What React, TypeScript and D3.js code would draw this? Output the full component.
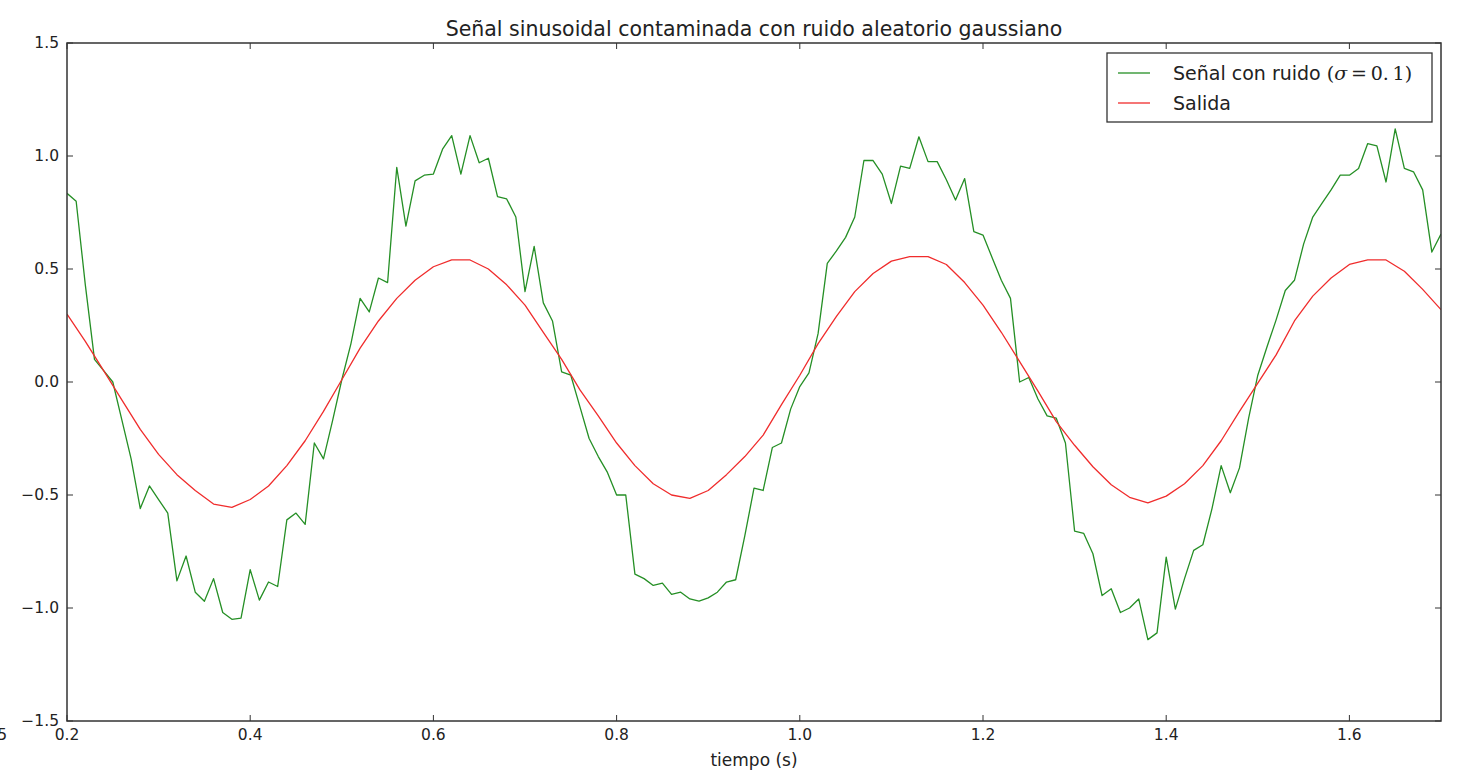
import React from "react";
import { scaleLinear, line } from "d3";

// noisy signal, one sample every 0.01 s
const noisyTime = [
  0.2, 0.21, 0.22, 0.23, 0.24, 0.25, 0.26, 0.27, 0.28, 0.29,
  0.3, 0.31, 0.32, 0.33, 0.34, 0.35, 0.36, 0.37, 0.38, 0.39,
  0.4, 0.41, 0.42, 0.43, 0.44, 0.45, 0.46, 0.47, 0.48, 0.49,
  0.5, 0.51, 0.52, 0.53, 0.54, 0.55, 0.56, 0.57, 0.58, 0.59,
  0.6, 0.61, 0.62, 0.63, 0.64, 0.65, 0.66, 0.67, 0.68, 0.69,
  0.7, 0.71, 0.72, 0.73, 0.74, 0.75, 0.76, 0.77, 0.78, 0.79,
  0.8, 0.81, 0.82, 0.83, 0.84, 0.85, 0.86, 0.87, 0.88, 0.89,
  0.9, 0.91, 0.92, 0.93, 0.94, 0.95, 0.96, 0.97, 0.98, 0.99,
  1.0, 1.01, 1.02, 1.03, 1.04, 1.05, 1.06, 1.07, 1.08, 1.09,
  1.1, 1.11, 1.12, 1.13, 1.14, 1.15, 1.16, 1.17, 1.18, 1.19,
  1.2, 1.21, 1.22, 1.23, 1.24, 1.25, 1.26, 1.27, 1.28, 1.29,
  1.3, 1.31, 1.32, 1.33, 1.34, 1.35, 1.36, 1.37, 1.38, 1.39,
  1.4, 1.41, 1.42, 1.43, 1.44, 1.45, 1.46, 1.47, 1.48, 1.49,
  1.5, 1.51, 1.52, 1.53, 1.54, 1.55, 1.56, 1.57, 1.58, 1.59,
  1.6, 1.61, 1.62, 1.63, 1.64, 1.65, 1.66, 1.67, 1.68, 1.69,
  1.7,
];
const noisyValue = [
  0.835, 0.8, 0.43, 0.1, 0.05, 0.0, -0.17, -0.34, -0.56, -0.46,
  -0.52, -0.58, -0.88, -0.77, -0.93, -0.97, -0.87, -1.02, -1.05, -1.045,
  -0.83, -0.965, -0.885, -0.905, -0.61, -0.58, -0.63, -0.27, -0.34, -0.17,
  0.01, 0.17, 0.37, 0.31, 0.46, 0.44, 0.95, 0.69, 0.89, 0.915,
  0.92, 1.03, 1.09, 0.92, 1.09, 0.97, 0.99, 0.82, 0.81, 0.73,
  0.4, 0.6, 0.35, 0.27, 0.045, 0.03, -0.11, -0.25, -0.33, -0.4,
  -0.5, -0.5, -0.85, -0.87, -0.9, -0.89, -0.94, -0.93, -0.96, -0.97,
  -0.955, -0.93, -0.885, -0.875, -0.68, -0.47, -0.48, -0.29, -0.27, -0.12,
  -0.02, 0.04, 0.215, 0.525, 0.58, 0.64, 0.73, 0.98, 0.98, 0.92,
  0.79, 0.955, 0.945, 1.085, 0.975, 0.975, 0.895, 0.805, 0.9, 0.665,
  0.65, 0.55, 0.45, 0.37, 0.0, 0.02, -0.075, -0.15, -0.16, -0.27,
  -0.66, -0.67, -0.76, -0.945, -0.915, -1.02, -1.0, -0.96, -1.14, -1.11,
  -0.775, -1.005, -0.87, -0.745, -0.72, -0.56, -0.37, -0.49, -0.38, -0.16,
  0.03, 0.155, 0.275, 0.405, 0.45, 0.61, 0.73, 0.79, 0.85, 0.915,
  0.915, 0.945, 1.055, 1.045, 0.885, 1.12, 0.945, 0.93, 0.85, 0.575,
  0.655,
];

// filter output (read every 0.02 s)
const outputTime = [
  0.2, 0.22, 0.24, 0.26, 0.28, 0.3, 0.32, 0.34, 0.36, 0.38,
  0.4, 0.42, 0.44, 0.46, 0.48, 0.5, 0.52, 0.54, 0.56, 0.58,
  0.6, 0.62, 0.64, 0.66, 0.68, 0.7, 0.72, 0.74, 0.76, 0.78,
  0.8, 0.82, 0.84, 0.86, 0.88, 0.9, 0.92, 0.94, 0.96, 0.98,
  1.0, 1.02, 1.04, 1.06, 1.08, 1.1, 1.12, 1.14, 1.16, 1.18,
  1.2, 1.22, 1.24, 1.26, 1.28, 1.3, 1.32, 1.34, 1.36, 1.38,
  1.4, 1.42, 1.44, 1.46, 1.48, 1.5, 1.52, 1.54, 1.56, 1.58,
  1.6, 1.62, 1.64, 1.66, 1.68, 1.7,
];
const outputValue = [
  0.3, 0.18, 0.05, -0.08, -0.21, -0.32, -0.41, -0.48, -0.54, -0.555,
  -0.52, -0.46, -0.37, -0.26, -0.13, 0.01, 0.15, 0.27, 0.37, 0.45,
  0.51, 0.54, 0.54, 0.5, 0.43, 0.34, 0.22, 0.1, -0.035, -0.15,
  -0.27, -0.37, -0.45, -0.5, -0.515, -0.48, -0.41, -0.33, -0.235, -0.1,
  0.03, 0.17, 0.29, 0.4, 0.48, 0.535, 0.555, 0.555, 0.52, 0.44,
  0.34, 0.22, 0.09, -0.04, -0.175, -0.28, -0.375, -0.455, -0.51, -0.535,
  -0.505, -0.45, -0.37, -0.26, -0.13, -0.005, 0.12, 0.27, 0.38, 0.46,
  0.52, 0.54, 0.54, 0.49, 0.41, 0.32,
];

const xTicks = [0.2, 0.4, 0.6, 0.8, 1.0, 1.2, 1.4, 1.6];
const yTicks = [-1.5, -1.0, -0.5, 0.0, 0.5, 1.0, 1.5];

const W = 1457;
const H = 773;
const m = { left: 67, right: 1441, top: 43, bottom: 721 };
const FONT = "'DejaVu Sans', sans-serif";

const fmt = (v: number) => (v < 0 ? "\u2212" : "") + Math.abs(v).toFixed(1);

export default function App() {
  const x = scaleLinear().domain([0.2, 1.7]).range([m.left, m.right]);
  const y = scaleLinear().domain([-1.5, 1.5]).range([m.bottom, m.top]);

  const seriesLine = line<[number, number]>()
    .x((d) => x(d[0]))
    .y((d) => y(d[1]));

  const noisyPath = seriesLine(noisyTime.map((t, i) => [t, noisyValue[i]]));
  const outputPath = seriesLine(outputTime.map((t, i) => [t, outputValue[i]]));

  const tick = 6;
  const green = "#258f25";
  const red = "#f02c2c";

  return (
    <div style={{ position: "absolute", left: 0, top: 0 }}>
      <svg width={W} height={H} style={{ display: "block", background: "#fff" }} fontFamily={FONT}>
        <defs>
          <clipPath id="plot">
            <rect x={m.left} y={m.top} width={m.right - m.left} height={m.bottom - m.top} />
          </clipPath>
        </defs>

        {/* lines */}
        <g clipPath="url(#plot)" fill="none" strokeWidth={1.3} strokeLinejoin="round">
          <path d={noisyPath ?? ""} stroke={green} />
          <path d={outputPath ?? ""} stroke={red} />
        </g>

        {/* ticks, inward on all four sides */}
        <g stroke="#333" strokeWidth={1}>
          {xTicks.map((t) => (
            <g key={"xt" + t}>
              <line x1={x(t)} x2={x(t)} y1={m.bottom} y2={m.bottom - tick} />
              <line x1={x(t)} x2={x(t)} y1={m.top} y2={m.top + tick} />
            </g>
          ))}
          {yTicks.map((t) => (
            <g key={"yt" + t}>
              <line x1={m.left} x2={m.left + tick} y1={y(t)} y2={y(t)} />
              <line x1={m.right} x2={m.right - tick} y1={y(t)} y2={y(t)} />
            </g>
          ))}
        </g>

        {/* frame */}
        <rect
          x={m.left}
          y={m.top}
          width={m.right - m.left}
          height={m.bottom - m.top}
          fill="none"
          stroke="#333"
          strokeWidth={1.5}
        />

        {/* tick labels */}
        <g fontSize={15.5} fill="#222">
          {xTicks.map((t) => (
            <text key={"xl" + t} x={x(t)} y={m.bottom + 19} textAnchor="middle">
              {fmt(t)}
            </text>
          ))}
          {yTicks.map((t) => (
            <text key={"yl" + t} x={m.left - 8} y={y(t)} dy="0.35em" textAnchor="end">
              {fmt(t)}
            </text>
          ))}
          {/* fragment of a neighbouring label, cut by the image edge as in the source */}
          <text x={7} y={m.bottom + 19} textAnchor="end">
            5
          </text>
        </g>

        {/* axis label */}
        <text x={(m.left + m.right) / 2} y={766} textAnchor="middle" fontSize={17} fill="#222">
          tiempo (s)
        </text>

        {/* title */}
        <text x={(m.left + m.right) / 2} y={36} textAnchor="middle" fontSize={20.5} fill="#222">
          Señal sinusoidal contaminada con ruido aleatorio gaussiano
        </text>

        {/* legend */}
        <g>
          <rect x={1107} y={53} width={325} height={69} fill="#fff" stroke="#333" strokeWidth={1.3} />
          <line x1={1118} x2={1150} y1={73} y2={73} stroke={green} strokeWidth={1.3} />
          <line x1={1118} x2={1150} y1={103} y2={103} stroke={red} strokeWidth={1.3} />
          <text x={1173} y={80} fontSize={19} fill="#222">
            Señal con ruido{" "}
            <tspan fontFamily="'DejaVu Serif', serif">
              (<tspan fontStyle="italic">σ</tspan>
              {"\u2009=\u20090.\u20091)"}
            </tspan>
          </text>
          <text x={1173} y={110} fontSize={19} fill="#222">
            Salida
          </text>
        </g>
      </svg>
    </div>
  );
}
